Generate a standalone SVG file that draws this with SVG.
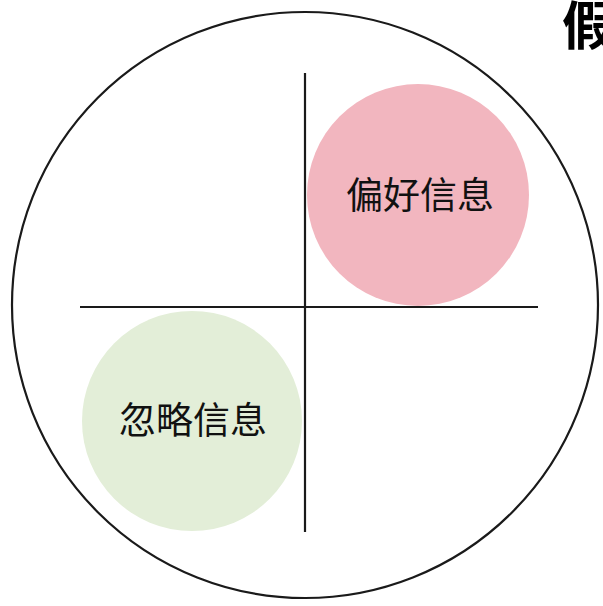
<svg xmlns="http://www.w3.org/2000/svg" width="603" height="606" viewBox="0 0 603 606">
<style>
.ln{stroke:#1a1a1a;stroke-width:2.2;fill:none}
.lbl{font-family:"Noto Sans CJK SC","Noto Sans CJK JP",sans-serif;font-size:37px;fill:#111;text-anchor:middle}
</style>
<rect width="603" height="606" fill="#fff"/>
<g id="frame"><circle cx="305" cy="305" r="293" class="ln"/></g>
<g id="connectors">
<line x1="305" y1="73" x2="305" y2="532" class="ln"/>
<line x1="80" y1="307" x2="538" y2="307" class="ln"/>
</g>
<g id="preference">
<circle cx="418" cy="195" r="111" fill="#f2b6bf"/>
<text x="420" y="209" class="lbl">偏好信息</text>
</g>
<g id="ignore">
<circle cx="192" cy="421" r="110" fill="#e3eed8"/>
<text x="193" y="434" class="lbl">忽略信息</text>
</g>
<text x="562" y="45" font-family="Noto Sans CJK SC,sans-serif" font-weight="bold" font-size="52" fill="#000">假</text>
</svg>
